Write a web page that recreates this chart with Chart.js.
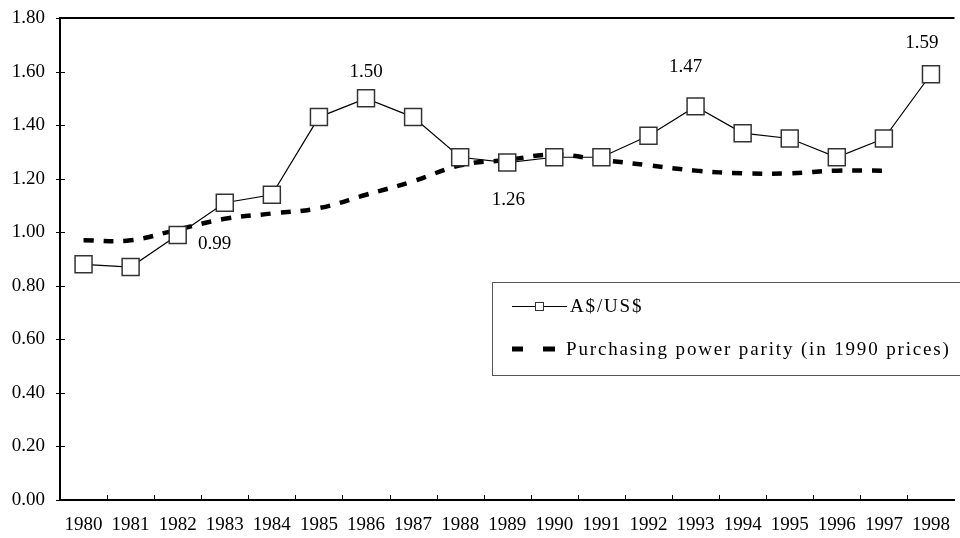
<!DOCTYPE html>
<html>
<head>
<meta charset="utf-8">
<title>A$/US$ e paridade do poder de compra</title>
<script src="https://cdn.jsdelivr.net/npm/chart.js@4"></script>
<style>
  html, body { margin: 0; padding: 0; background: #fff; overflow: hidden; }
  #wrap { width: 968px; height: 538px; }
</style>
</head>
<body>
<div id="wrap"><canvas id="grafico"></canvas></div>
<script>
// ========== Dados ==========

const anos = ['1980', '1981', '1982', '1983', '1984', '1985', '1986', '1987', '1988', '1989',
              '1990', '1991', '1992', '1993', '1994', '1995', '1996', '1997', '1998'];

const cambio = [0.88, 0.87, 0.99, 1.11, 1.14, 1.43, 1.50, 1.43, 1.28, 1.26,
                1.28, 1.28, 1.36, 1.47, 1.37, 1.35, 1.28, 1.35, 1.59];

const ppp = [0.97, 0.97, 1.01, 1.05, 1.07, 1.09, 1.14, 1.19, 1.25, 1.27,
             1.29, 1.27, 1.25, 1.23, 1.22, 1.22, 1.23, 1.23, null];

const yTicks = [0, 0.2, 0.4, 0.6, 0.8, 1.0, 1.2, 1.4, 1.6, 1.8];

const nomes = ['A$/US$', 'Purchasing power parity (in 1990 prices)'];

// anos com o valor escrito ao lado do ponto
const anosRotulados = ['1982', '1986', '1989', '1993', '1998'];

const FONTE = "'Liberation Serif', 'Times New Roman', serif";
Chart.defaults.font.family = FONTE;
Chart.defaults.font.size = 19;
Chart.defaults.color = '#000';

// ========== Plugins ==========

// moldura superior e marcas dos eixos
const moldura = {
  id: 'moldura',
  afterDraw(chart) {
    const { ctx, chartArea: a, scales: { x, y } } = chart;
    ctx.save();
    ctx.strokeStyle = '#000';
    ctx.lineWidth = 2;
    ctx.beginPath();
    ctx.moveTo(a.left - 1, a.top);
    ctx.lineTo(a.right, a.top);
    ctx.stroke();

    ctx.lineWidth = 1;
    ctx.beginPath();
    y.ticks.forEach(t => {
      const py = Math.round(y.getPixelForValue(t.value)) + 0.5;
      ctx.moveTo(a.left - 4, py);
      ctx.lineTo(a.left + 5, py);
    });
    for (let i = 1; i < anos.length; i++) {
      const px = Math.round((x.getPixelForValue(i - 1) + x.getPixelForValue(i)) / 2) + 0.5;
      ctx.moveTo(px, a.bottom);
      ctx.lineTo(px, a.bottom - 5);
    }
    ctx.stroke();
    ctx.restore();
  }
};

// valores escritos junto aos pontos
const rotulos = {
  id: 'rotulos',
  afterDatasetsDraw(chart, args, opts) {
    const { ctx } = chart;
    const meta = chart.getDatasetMeta(0);
    ctx.save();
    ctx.font = '19px ' + FONTE;
    ctx.fillStyle = '#000';
    ctx.textAlign = 'center';
    ctx.textBaseline = 'middle';
    anosRotulados.forEach(ano => {
      const i = anos.indexOf(ano);
      const p = meta.data[i];
      const d = opts.desloc[ano];
      ctx.fillText(cambio[i].toFixed(2), p.x + d[0], p.y + d[1]);
    });
    ctx.restore();
  }
};

// legenda dentro da área do gráfico
const legenda = {
  id: 'legenda',
  afterDraw(chart, args, o) {
    const { ctx } = chart;
    ctx.save();
    ctx.fillStyle = '#fff';
    ctx.fillRect(o.x, o.y, o.w, o.h);
    ctx.strokeStyle = '#555';
    ctx.lineWidth = 1;
    ctx.strokeRect(o.x + 0.5, o.y + 0.5, o.w, o.h);

    const y1 = o.y + o.linha1, y2 = o.y + o.linha2;
    const sx = o.x + 20;

    // amostra A$/US$
    ctx.strokeStyle = '#000';
    ctx.beginPath();
    ctx.moveTo(sx, y1 + 0.5);
    ctx.lineTo(sx + 55, y1 + 0.5);
    ctx.stroke();
    ctx.fillStyle = '#fff';
    ctx.strokeStyle = '#333';
    ctx.fillRect(sx + 23, y1 - 4, 9, 9);
    ctx.strokeRect(sx + 23.5, y1 - 3.5, 8, 8);

    // amostra PPP
    ctx.strokeStyle = '#000';
    ctx.lineWidth = 5;
    ctx.beginPath();
    ctx.moveTo(sx, y2); ctx.lineTo(sx + 11, y2);
    ctx.moveTo(sx + 31, y2); ctx.lineTo(sx + 43, y2);
    ctx.stroke();

    ctx.fillStyle = '#000';
    ctx.font = '19px ' + FONTE;
    ctx.letterSpacing = o.espaco + 'px';
    ctx.textAlign = 'left';
    ctx.textBaseline = 'middle';
    ctx.fillText(nomes[0], sx + 58, y1 + 1);
    ctx.fillText(nomes[1], sx + 54, y2 + 1);
    ctx.restore();
  }
};

// ========== Gráfico ==========

new Chart(document.getElementById('grafico'), {
  type: 'line',
  data: {
    labels: anos,
    datasets: [
      {
        label: nomes[0],
        data: cambio,
        borderColor: '#000',
        borderWidth: 1.2,
        tension: 0,
        pointStyle: 'rect',
        pointRadius: 12,
        pointBorderWidth: 1.5,
        pointBorderColor: '#333',
        pointBackgroundColor: '#fff',
      },
      {
        label: nomes[1],
        data: ppp,
        borderColor: '#000',
        borderWidth: 4.5,
        borderDash: [10, 10],
        tension: 0.4,
        pointRadius: 0,
        spanGaps: false,
      },
    ],
  },
  options: {
    responsive: true,
    maintainAspectRatio: false,
    animation: false,
    layout: { padding: { top: 18, right: 3, left: 0, bottom: 0 } },
    plugins: {
      legend: { display: false },
      tooltip: { enabled: false },
      rotulos: {
        desloc: {
          '1982': [37, 9],
          '1986': [0, -26],
          '1989': [1, 37],
          '1993': [-10, -39],
          '1998': [-9, -31],
        }
      },
      legenda: { x: 492, y: 282, w: 470, h: 93, linha1: 24, linha2: 67, espaco: 1.85 },
    },
    scales: {
      x: {
        type: 'category',
        offset: true,
        grid: { display: false, drawTicks: false },
        border: { display: true, color: '#000', width: 2 },
        ticks: { padding: 14, maxRotation: 0, autoSkip: false, font: { size: 19 } },
        afterFit: s => { s.height = 38; },
      },
      y: {
        min: 0,
        max: 1.8,
        grid: { display: false, drawTicks: false },
        border: { display: true, color: '#000', width: 2 },
        afterBuildTicks: s => { s.ticks = yTicks.map(v => ({ value: v })); },
        ticks: { padding: 15, callback: v => v.toFixed(2), font: { size: 19 } },
        afterFit: s => { s.width = 60; s.paddingTop = 0; s.paddingBottom = 0; },
      },
    },
  },
  plugins: [moldura, rotulos, legenda],
});
</script>
</body>
</html>
